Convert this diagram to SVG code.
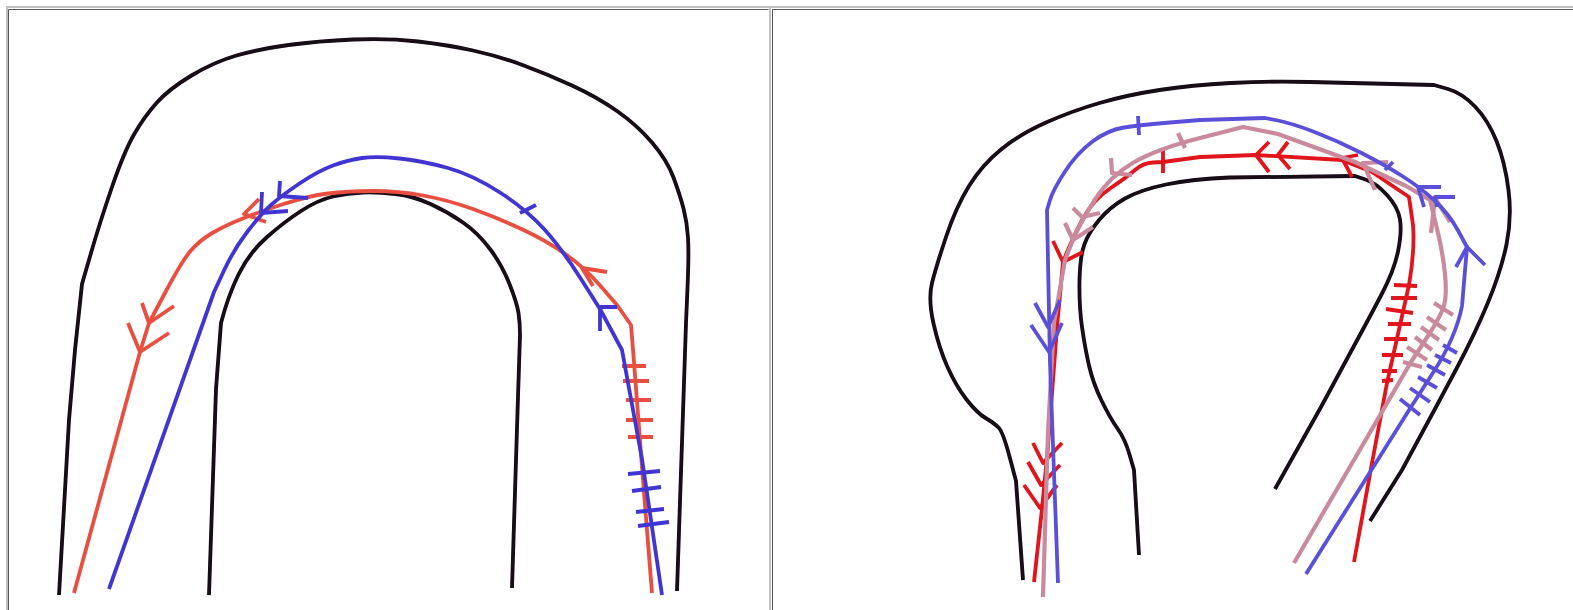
<svg xmlns="http://www.w3.org/2000/svg" width="1573" height="610" viewBox="0 0 1573 610">
<defs><filter id="soft" x="-2%" y="-2%" width="104%" height="104%"><feGaussianBlur stdDeviation="0.55"/></filter></defs>
<style>
path{fill:none;stroke-linejoin:round;stroke-linecap:butt}
.art{filter:url(#soft)}
.k{stroke:#120812;stroke-width:3.8}
.r1{stroke:#e8503f;stroke-width:3.8}
.b1{stroke:#3f36d2;stroke-width:3.8}
.r2{stroke:#e0121a;stroke-width:3.8}
.b2{stroke:#5a50d8;stroke-width:3.8}
.p2{stroke:#c98a9e;stroke-width:4.2}
.fg{stroke:#c0c0c0;stroke-width:2}
.fd{stroke:#555;stroke-width:1}
</style>
<rect width="1573" height="610" fill="#fff"/>
<g id="frame">
<path class="fg" d="M6 7H1573M770 7V610M7 7V610"/>
<path class="fd" d="M8.500 9.500H768.500M772.500 9.500H1573M8.500 9.500V610M772.500 9.500V610"/>
</g>
<g id="left-panel" class="art">
<path class="k" d="M59 595L69 420L75 350L82 284Q82 284 91 253Q100 222 112 187Q124 152 134 134.500Q144 117 156.500 103Q169 89 191.500 75.500Q214 62 236.500 55.500Q259 49 288.500 45Q318 41 353 39.500Q388 38 418 41.500Q448 45 473 50.500Q498 56 522.500 65Q547 74 572 85.500Q597 97 617 111Q637 125 652 142.500Q667 160 673.500 177.500Q680 195 683.500 208.500Q687 222 688 237.500Q689 253 687.500 288L686 323L677 591"/>
<path class="k" d="M209 595L216 389L221 323Q228 296 238.500 274.500Q249 253 266.500 237.500Q284 222 301 211Q318 200 333 196.500Q348 193 363 192.500Q378 192 395.500 194Q413 196 430.500 204Q448 212 463 222.500Q478 233 490 249Q502 265 509.500 284Q517 303 518.500 313Q520 323 520 335L517 428L512 588"/>
<g id="left-red">
<path class="r1" d="M74 593L140 352L149 323L165.500 292Q182 261 190.500 251Q199 241 211.500 233.500Q224 226 241.500 219Q259 212 283.500 204Q308 196 328 193.500Q348 191 373 191Q398 191 423 195.500Q448 200 473 209Q498 218 522.500 229.500Q547 241 566 254.500Q585 268 601 286.500L617 305L631 325L634 362L642 467L652 593"/>
<path class="r1" d="M142 303L149 323L174 306M128 323L140 352L169 333M259 199L244 214L266 222M607 272L582 268L593 286"/>
<path class="r1" d="M622 366H646M623 381H649M626 400H651M626 420H653M628 437H653"/>
</g>
<g id="left-blue">
<path class="b1" d="M109 589L214 292L224 270.500Q234 249 247.500 231.500Q261 214 271 205Q281 196 299.500 183.500Q318 171 333 165.500Q348 160 362 158Q376 156 399.500 158.500Q423 161 448 168Q473 175 500 192.500Q527 210 544.500 229.500Q562 249 581 279L600 309L622 350L642 459L662 595"/>
<path class="b1" d="M280 181L279 196L308 198M262 192L261 213L288 211M617 307H600V331M520 213L536 205"/>
<path class="b1" d="M628 474L660 471M632 491L661 487M636 512L664 509M638 526L669 522"/>
</g>
</g>
<g id="right-panel" class="art">
<path class="k" d="M1023 580L1016 481L1009.500 456.500Q1003 432 998.500 427.500Q994 423 985.500 418Q977 413 966.500 399.500Q956 386 947.500 367Q939 348 933.500 323.500Q928 299 932 283Q936 267 946 237Q956 207 969 186Q982 165 1001 149.500Q1020 134 1046 122.500Q1072 111 1099.500 103Q1127 95 1159.500 90Q1192 85 1230.500 83Q1269 81 1310 82L1434 85L1448 89Q1462 93 1475 106.500Q1488 120 1496.500 141Q1505 162 1508.500 190Q1512 218 1506.500 244.500Q1501 271 1488 302.500Q1475 334 1455.500 370.500L1436 407L1402 470L1370 521"/>
<path class="k" d="M1139 555L1134 470L1129.500 454.500Q1125 439 1117.500 428.500Q1110 418 1101.500 400.500Q1093 383 1089 365.500Q1085 348 1082 327Q1079 306 1079.500 281Q1080 256 1084.500 244Q1089 232 1099.500 219.500Q1110 207 1125 198.500Q1140 190 1166 184.500Q1192 179 1230 177.500L1355 176L1365.500 179.500Q1376 183 1387 195Q1398 207 1400 219.500Q1402 232 1398 251.500Q1394 271 1381 295.500L1368 320L1321 407L1275 489"/>
<g id="right-red">
<path class="r2" d="M1034 582L1042 509L1048 446L1057 327L1063 262Q1073 237 1083 218.500Q1093 200 1110 188.500Q1127 177 1135 170Q1143 163 1153 162.500L1163 162L1200 157L1256 155L1342 160L1372 172L1409 197L1413 225Q1415 250 1409 285L1387 383L1372 463L1354 562"/>
<path class="r2" d="M1033 443L1043 463L1062 443M1028 462L1041 485L1060 465M1024 485L1040 508L1057 485M1053 241L1063 262L1083 252M1163 150V173M1358 155L1342 158L1352 177M1269 142L1256 155L1269 172M1288 142L1278 155L1290 169"/>
<path class="r2" d="M1394 285L1417 286M1391 298L1417 298M1386 309L1413 313M1388 324L1411 324M1384 339L1407 339M1382 355L1403 355M1382 371L1397 371M1382 381L1393 380"/>
</g>
<g id="right-pink">
<path class="p2" d="M1043 597L1048 432L1054 323L1065 260L1072 242Q1080 223 1095 199.500Q1110 176 1133.500 162.500Q1157 149 1200 138L1243 127L1278 134L1355 162L1406 186L1430 200L1436.500 226.500Q1443 253 1445 274Q1447 295 1444 305.500Q1441 316 1426 339L1411 362L1294 563"/>
<path class="p2" d="M1111 158L1112 173L1132 175M1073 208L1082 217L1100 213M1065 223L1073 240L1093 227M1178 133L1185 148M1431 233L1435 198L1450 222M1375 190L1363 163L1388 162"/>
<path class="p2" d="M1434 303L1453 315M1427 317L1446 330M1421 327L1439 340M1415 337L1432 350M1407 347L1427 360M1403 362L1422 367"/>
</g>
<g id="right-blue">
<path class="b2" d="M1058 583L1050 363L1047 210L1050 200Q1053 190 1065 171.500Q1077 153 1092.500 141.500Q1108 130 1124 127.500Q1140 125 1170 122.500L1200 120L1265 118L1278 120.500Q1291 123 1314.500 132Q1338 141 1361.500 153Q1385 165 1403 176.500Q1421 188 1435 201Q1449 214 1458 230.500L1467 247L1462 306Q1456 337 1433.500 372L1411 407L1306 574"/>
<path class="b2" d="M1035 303L1048 327L1060 300M1031 325L1049 352L1062 323M1138 116L1139 135M1441 187H1418L1424 207M1455 197H1435L1437 207M1456 267L1467 247L1485 265M1393 162L1385 170"/>
<path class="b2" d="M1443 345L1457 353M1435 355L1451 363M1427 365L1445 375M1418 377L1437 388M1410 388L1430 402M1400 399L1420 415"/>
</g>
</g>
</svg>
